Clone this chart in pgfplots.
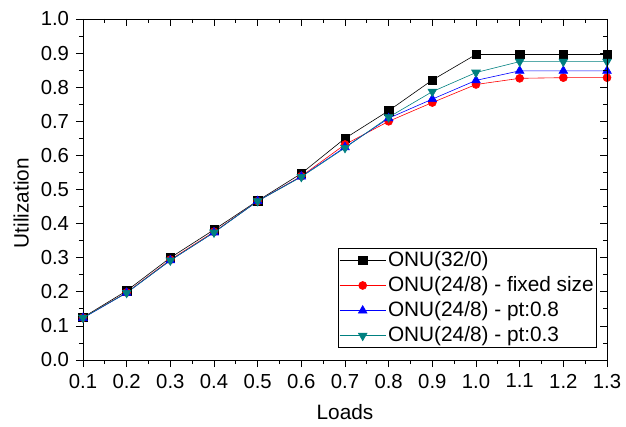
\documentclass[border=0pt]{standalone}
\usepackage{pgfplots}
\pgfplotsset{compat=1.18}
\usepackage{fontspec}
\setmainfont{Liberation Sans}
\definecolor{tealc}{RGB}{0,128,128}
\begin{document}
\fontsize{20.3}{23}\selectfont
\begin{tikzpicture}
\pgfplotsset{
  common/.style={
    width=524pt, height=341pt, scale only axis,
    xmin=0.1, xmax=1.3, ymin=0, ymax=1.0,
    xtick={0.1,0.2,...,1.31}, ytick={0,0.1,...,1.01},
    minor x tick num=1, minor y tick num=1,
    major tick length=7pt, minor tick length=4pt,
    every tick/.style={black, line width=0.8pt},
    axis line style={line width=0.8pt},
    /pgf/number format/assume math mode=true,
  }
}
\begin{axis}[common, name=main,
  axis lines*=left, tick align=outside,
  xticklabel style={/pgf/number format/.cd, fixed, fixed zerofill, precision=1},
  yticklabel style={/pgf/number format/.cd, fixed, fixed zerofill, precision=1},
  xlabel={Loads}, ylabel={Utilization},
  xlabel style={at={(axis description cs:0.5,-0.152)}, anchor=center, font=\fontsize{20.8}{23}\selectfont},
  ylabel style={at={(axis description cs:-0.118,0.46)}, anchor=center, font=\fontsize{20.8}{23}\selectfont},
  legend style={at={(axis description cs:0.981,0.035)}, anchor=south east,
    draw=black, line width=0.6pt, font=\fontsize{20.8}{23}\selectfont,
    row sep=3pt, inner sep=1pt},
  legend cell align=left,
  legend image code/.code={\draw[mark repeat=2,mark phase=2] plot coordinates {(0pt,0pt) (23pt,0pt) (46pt,0pt)};},
]
\addplot[black, line width=0.6pt, mark=square*, mark size=4.2pt] coordinates {
(0.1,0.125) (0.2,0.203) (0.3,0.300) (0.4,0.382) (0.5,0.467) (0.6,0.547) (0.7,0.650) (0.8,0.731) (0.9,0.821) (1.0,0.896) (1.1,0.896) (1.2,0.896) (1.3,0.896)};
\addlegendentry{ONU(32/0)}
\addplot[red, line width=0.6pt, mark=*, mark size=4pt] coordinates {
(0.1,0.124) (0.2,0.198) (0.3,0.294) (0.4,0.376) (0.5,0.466) (0.6,0.539) (0.7,0.632) (0.8,0.700) (0.9,0.755) (1.0,0.808) (1.1,0.826) (1.2,0.828) (1.3,0.828)};
\addlegendentry{ONU(24/8) - fixed size}
\addplot[blue, line width=0.6pt, mark=triangle*, mark size=5pt] coordinates {
(0.1,0.123) (0.2,0.197) (0.3,0.292) (0.4,0.374) (0.5,0.466) (0.6,0.538) (0.7,0.624) (0.8,0.709) (0.9,0.765) (1.0,0.820) (1.1,0.848) (1.2,0.848) (1.3,0.848)};
\addlegendentry{ONU(24/8) - pt:0.8}
\addplot[tealc, line width=0.6pt, mark=triangle*, mark size=5pt, mark options={rotate=180}] coordinates {
(0.1,0.124) (0.2,0.197) (0.3,0.292) (0.4,0.374) (0.5,0.466) (0.6,0.537) (0.7,0.622) (0.8,0.712) (0.9,0.787) (1.0,0.843) (1.1,0.875) (1.2,0.875) (1.3,0.875)};
\addlegendentry{ONU(24/8) - pt:0.3}
\end{axis}
\begin{axis}[common,
  axis x line*=top, axis y line*=right, tick align=inside,
  xticklabels={}, yticklabels={},
]
\end{axis}
\pgfresetboundingbox
\useasboundingbox ([xshift=-83pt,yshift=-66pt]main.south west) rectangle ([xshift=19pt,yshift=19pt]main.north east);
\end{tikzpicture}
\end{document}
